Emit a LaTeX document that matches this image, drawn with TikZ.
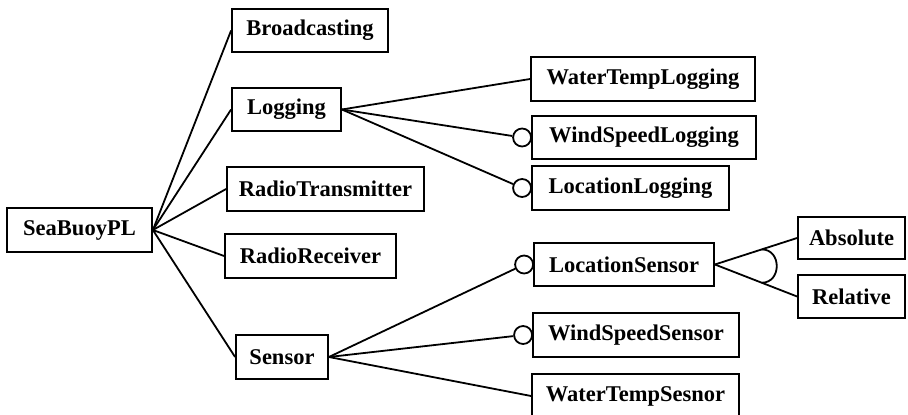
\documentclass[tikz,border=0pt]{standalone}
\usepackage{fontspec}
\setmainfont{Liberation Serif}
\usetikzlibrary{calc}
\tikzset{
  fbox/.style={draw, line width=1.8pt, rectangle, inner sep=0pt, align=center,
    font=\bfseries\fontsize{22.5}{24}\selectfont},
  link/.style={line width=1.8pt},
  opt/.style={draw, circle, line width=1.8pt, inner sep=0pt, minimum size=18pt},
}
\begin{document}
\begin{tikzpicture}[x=1pt,y=-1pt]
\useasboundingbox (0,0) rectangle (908,415);
\node[fbox, minimum width=145pt, minimum height=44pt] (sea) at (79.5,230) {SeaBuoyPL};
\node[fbox, minimum width=156pt, minimum height=43pt] (broad) at (310,30.5) {Broadcasting};
\node[fbox, minimum width=109pt, minimum height=43pt] (log) at (286.5,109.5) {Logging};
\node[fbox, minimum width=197pt, minimum height=44pt] (rtx) at (325.5,189) {RadioTransmitter};
\node[fbox, minimum width=171pt, minimum height=44pt] (rrx) at (310.5,256) {RadioReceiver};
\node[fbox, minimum width=92pt, minimum height=44pt] (sensor) at (282,357) {Sensor};
\node[fbox, minimum width=224pt, minimum height=44pt] (wtl) at (643,79) {WaterTempLogging};
\node[fbox, minimum width=224pt, minimum height=43pt] (wsl) at (644,137.5) {WindSpeedLogging};
\node[fbox, minimum width=197pt, minimum height=44pt] (locl) at (630.5,188) {LocationLogging};
\node[fbox, minimum width=180pt, minimum height=43pt] (locs) at (624,264.5) {LocationSensor};
\node[fbox, minimum width=107pt, minimum height=42pt] (abs) at (851.5,238) {Absolute};
\node[fbox, minimum width=107pt, minimum height=43pt] (rel) at (851.5,296.5) {Relative};
\node[fbox, minimum width=206pt, minimum height=44pt] (wss) at (636,335) {WindSpeedSensor};
\node[fbox, minimum width=207pt, minimum height=44pt] (wts) at (635.5,396) {WaterTempSesnor};
% optional markers
\node[opt] (owsl) at ($(wsl.west)+(-9,0)$) {};
\node[opt] (olocl) at ($(locl.west)+(-9,0)$) {};
\node[opt] (olocs) at ($(locs.west)+(-9,0)$) {};
\node[opt] (owss) at ($(wss.west)+(-9,0)$) {};
% connectors
\foreach \t in {broad,log,rtx,rrx,sensor} \draw[link] (sea.east) -- (\t.west);
\draw[link] (log.east) -- (wtl.west);
\draw[link] (log.east) -- (owsl);
\draw[link] (log.east) -- (olocl);
\draw[link] (sensor.east) -- (olocs);
\draw[link] (sensor.east) -- (owss);
\draw[link] (sensor.east) -- (wts.west);
\draw[link] (locs.east) -- (abs.west);
\draw[link] (locs.east) -- (rel.west);
\draw[link] ($(locs.east)!0.57!(abs.west)$) .. controls +(20,0) and +(20,0) .. ($(locs.east)!0.57!(rel.west)$);
\end{tikzpicture}
\end{document}
